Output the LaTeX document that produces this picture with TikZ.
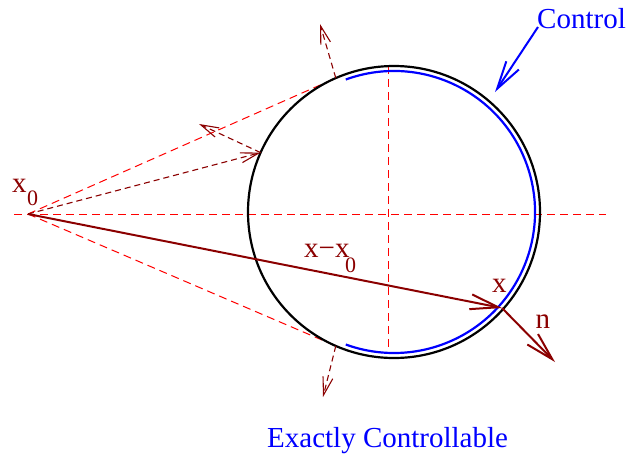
\documentclass[tikz,border=0pt]{standalone}
\usepackage{fontspec}
\setmainfont{Liberation Serif}
\usetikzlibrary{arrows.meta}
\definecolor{dred}{RGB}{139,0,0}
\begin{document}
\begin{tikzpicture}[x=1pt,y=-1pt,
  reddash/.style={red, line width=1pt, dash pattern=on 8pt off 5pt},
  darrow/.style={dred, line width=1.1pt, dash pattern=on 6pt off 4pt,
    -{Straight Barb[length=18pt,width=10pt,line width=1.1pt]}},
  sarrow/.style={line width=2pt, -{Straight Barb[length=28pt,width=15pt,line width=2pt]}},
  lbl/.style={inner sep=0pt, anchor=base west, font=\fontsize{29}{34}\selectfont},
  sublbl/.style={inner sep=0pt, anchor=base west, font=\fontsize{22}{26}\selectfont}]
\useasboundingbox (0,0) rectangle (629,456);

% points
\coordinate (C) at (394,212);
\coordinate (x0) at (28,214);
\coordinate (T1) at (335.8,78.1);
\coordinate (T2) at (335.8,345.9);
\coordinate (P) at (260.6,152.6);
\coordinate (X) at (502,308);
\coordinate (N) at (555,362);
\coordinate (A1) at (320,24);
\coordinate (A2) at (323,397);
\coordinate (A3) at (199,124);
\coordinate (HL) at (14,214);
\coordinate (HR) at (606,214);
\coordinate (VT) at (388.5,66);
\coordinate (VB) at (388.5,352);
\coordinate (cs) at (538,27);
\coordinate (ct) at (495,92);

% red dashed construction lines
\draw[reddash] (HL) -- (HR);
\draw[reddash] (VT) -- (VB);
\draw[reddash] (x0) -- (T1);
\draw[reddash] (x0) -- (T2);

% circle and control arc
\draw[black, line width=2.2pt] (C) circle[radius=146];
\draw[blue, line width=2.2pt] ([shift={(-110:141)}]C) arc[start angle=-110, end angle=110, radius=141];

% dashed dark red arrows
\draw[darrow] (x0) -- (P);
\draw[darrow] (P) -- (A3);
\draw[darrow] (T1) -- (A1);
\draw[darrow] (T2) -- (A2);

% solid arrows
\draw[sarrow, dred] (x0) -- (X);
\draw[sarrow, dred] (X) -- (N);
\draw[sarrow, blue] (cs) -- (ct);

% labels
\node[lbl, dred] (lx0) at (12,192) {x};
\node[sublbl, dred] (lx0s) at (27,205) {0};
\node[lbl, dred] (ldiff) at (304,257) {x−x};
\node[sublbl, dred] (ldiffs) at (345,272) {0};
\node[lbl, dred] (lx) at (492,292) {x};
\node[lbl, dred] (ln) at (535.5,328) {n};
\node[lbl, blue] (lctl) at (537,28) {Control};
\node[lbl, blue] (lec) at (267,447) {Exactly Controllable};
\end{tikzpicture}
\end{document}
